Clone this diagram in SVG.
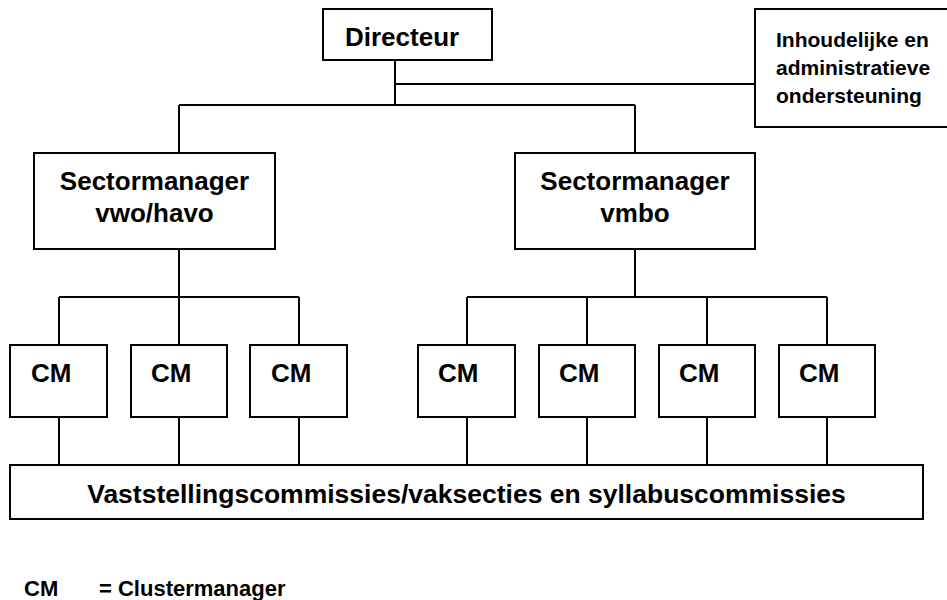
<svg xmlns="http://www.w3.org/2000/svg" width="947" height="600" viewBox="0 0 947 600">
<style>
.box{fill:#fff;stroke:#000;stroke-width:2}
.ln{stroke:#000;stroke-width:2;fill:none}
.t{font-family:"Liberation Sans",Arial,sans-serif;font-weight:bold;fill:#000}
.big{font-size:26px}
.mid{text-anchor:middle}
</style>
<rect width="947" height="600" fill="#fff"/>
<g id="connectors">
<path class="ln" d="M395 60V105M395 84H755M179 105H635M179 105V153M635 105V153M179 249V297M635 249V297M59 297H299M467 297H827M59 297V345M179 297V345M299 297V345M467 297V345M587 297V345M707 297V345M827 297V345M59 417V465M179 417V465M299 417V465M467 417V465M587 417V465M707 417V465M827 417V465"/>
</g>
<g id="directeur">
<rect class="box" x="323" y="9" width="169" height="51"/>
<text class="t big" x="345" y="46">Directeur</text>
</g>
<g id="ondersteuning">
<rect class="box" x="755" y="9" width="200" height="118"/>
<text class="t" font-size="21" x="776" y="47">Inhoudelijke en</text>
<text class="t" font-size="21" x="776" y="75">administratieve</text>
<text class="t" font-size="21" x="776" y="103">ondersteuning</text>
</g>
<g id="sm-vwo">
<rect class="box" x="34" y="153" width="241" height="96"/>
<text class="t big mid" x="154.5" y="190">Sectormanager</text>
<text class="t big mid" x="154.5" y="222">vwo/havo</text>
</g>
<g id="sm-vmbo">
<rect class="box" x="515" y="153" width="240" height="96"/>
<text class="t big mid" x="635" y="190">Sectormanager</text>
<text class="t big mid" x="635" y="222">vmbo</text>
</g>
<g id="cm1"><rect class="box" x="10" y="345" width="97" height="72"/><text class="t big" x="31" y="382">CM</text></g>
<g id="cm2"><rect class="box" x="131" y="345" width="96" height="72"/><text class="t big" x="151" y="382">CM</text></g>
<g id="cm3"><rect class="box" x="250" y="345" width="97" height="72"/><text class="t big" x="271" y="382">CM</text></g>
<g id="cm4"><rect class="box" x="418" y="345" width="97" height="72"/><text class="t big" x="438" y="382">CM</text></g>
<g id="cm5"><rect class="box" x="539" y="345" width="96" height="72"/><text class="t big" x="559" y="382">CM</text></g>
<g id="cm6"><rect class="box" x="659" y="345" width="96" height="72"/><text class="t big" x="679" y="382">CM</text></g>
<g id="cm7"><rect class="box" x="779" y="345" width="96" height="72"/><text class="t big" x="799" y="382">CM</text></g>
<g id="commissies">
<rect class="box" x="10" y="465" width="913" height="54"/>
<text class="t mid" font-size="26.5" x="466.5" y="503">Vaststellingscommissies/vaksecties en syllabuscommissies</text>
</g>
<g id="legend">
<text class="t" font-size="22" x="24" y="596">CM</text>
<text class="t" font-size="22" x="99" y="596">= Clustermanager</text>
</g>
</svg>
